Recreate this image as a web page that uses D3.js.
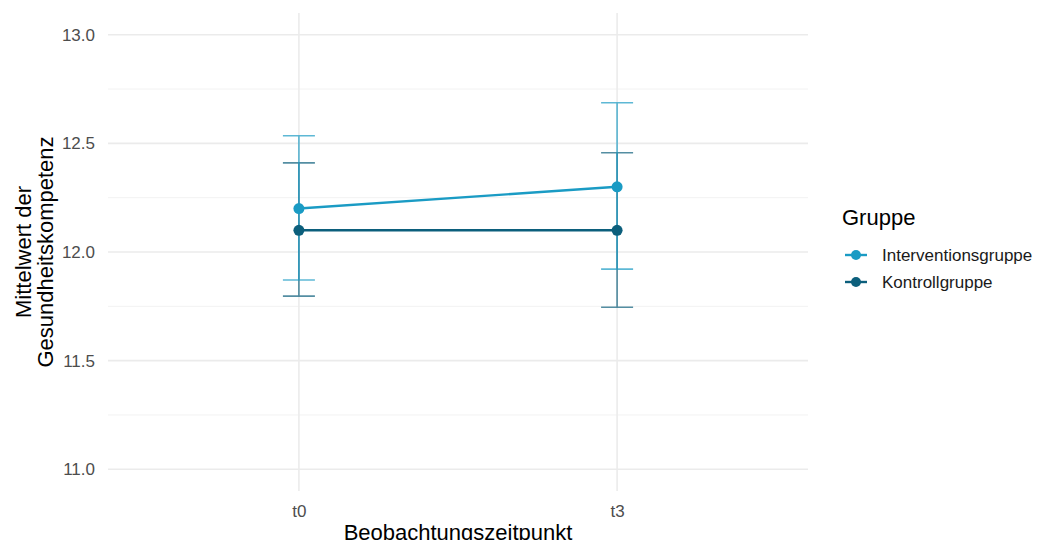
<!DOCTYPE html>
<html>
<head>
<meta charset="utf-8">
<script src="https://cdn.jsdelivr.net/npm/d3@7"></script>
<style>
  body { margin: 0; background: #fff; }
  text { font-family: "Liberation Sans", Arial, sans-serif; }
</style>
</head>
<body>
<script>
// data
var zeitpunkte = ["t0", "t3"];
var gruppen = ["Interventionsgruppe", "Kontrollgruppe"];
var mittelwerte = {
    Interventionsgruppe: [12.2, 12.3],
    Kontrollgruppe: [12.1, 12.1]
};
var obereGrenze = {
    Interventionsgruppe: [12.535, 12.687],
    Kontrollgruppe: [12.41, 12.457]
};
var untereGrenze = {
    Interventionsgruppe: [11.871, 11.921],
    Kontrollgruppe: [11.797, 11.746]
};
var yTicks = [11.0, 11.5, 12.0, 12.5, 13.0];
var yMinor = [11.25, 11.75, 12.25, 12.75];
var farben = { Interventionsgruppe: "#1a9bc4", Kontrollgruppe: "#0c5f7c" };

var svgWidth = 1040;
var svgHeight = 540;

var panel = { left: 108, right: 808, top: 13, bottom: 491 };

var svg = d3.select("body").append("svg")
    .attr("width", svgWidth)
    .attr("height", svgHeight);

// discrete x with ggplot-style expansion of 0.6
var x = d3.scalePoint()
    .domain(zeitpunkte)
    .range([panel.left, panel.right])
    .padding(0.6);

var y = d3.scaleLinear()
    .domain([10.9, 13.1])
    .range([panel.bottom, panel.top]);

// grid
var grid = svg.append("g");
grid.selectAll(".minor")
    .data(yMinor)
    .enter().append("line")
    .attr("x1", panel.left).attr("x2", panel.right)
    .attr("y1", d => y(d)).attr("y2", d => y(d))
    .attr("stroke", "#f2f2f2").attr("stroke-width", 1);
grid.selectAll(".major")
    .data(yTicks)
    .enter().append("line")
    .attr("x1", panel.left).attr("x2", panel.right)
    .attr("y1", d => y(d)).attr("y2", d => y(d))
    .attr("stroke", "#ebebeb").attr("stroke-width", 1.6);
grid.selectAll(".vmajor")
    .data(zeitpunkte)
    .enter().append("line")
    .attr("x1", d => x(d)).attr("x2", d => x(d))
    .attr("y1", panel.top).attr("y2", panel.bottom)
    .attr("stroke", "#ebebeb").attr("stroke-width", 1.6);

// axes (text only, like theme_minimal)
var yAxis = svg.append("g")
    .attr("transform", `translate(${panel.left - 10},0)`)
    .call(d3.axisLeft(y).tickValues(yTicks).tickFormat(d3.format(".1f")).tickSize(0));
yAxis.select(".domain").remove();
yAxis.selectAll("text")
    .attr("fill", "#4d4d4d").style("font-size", "17px");

var xAxis = svg.append("g")
    .attr("transform", `translate(0,${panel.bottom + 11})`)
    .call(d3.axisBottom(x).tickSize(0));
xAxis.select(".domain").remove();
xAxis.selectAll("text")
    .attr("fill", "#4d4d4d").style("font-size", "17px");

// axis titles
svg.append("text")
    .attr("x", (panel.left + panel.right) / 2)
    .attr("y", 540)
    .attr("text-anchor", "middle")
    .style("font-size", "22px")
    .attr("fill", "#000")
    .text("Beobachtungszeitpunkt");

var yTitle = svg.append("text")
    .attr("transform", `translate(31,${(panel.top + panel.bottom) / 2}) rotate(-90)`)
    .attr("text-anchor", "middle")
    .style("font-size", "22px")
    .attr("fill", "#000");
yTitle.append("tspan").attr("x", 0).attr("dy", "0em").text("Mittelwert der");
yTitle.append("tspan").attr("x", 0).attr("dy", "1.0em").text("Gesundheitskompetenz");

// error bars, Kontrollgruppe drawn first so Intervention sits on top
var capHalf = 16;
["Kontrollgruppe", "Interventionsgruppe"].forEach(g => {
    var eb = svg.append("g").attr("opacity", 0.7);
    zeitpunkte.forEach((t, i) => {
        var cx = x(t);
        eb.append("line")
            .attr("x1", cx).attr("x2", cx)
            .attr("y1", y(obereGrenze[g][i])).attr("y2", y(untereGrenze[g][i]))
            .attr("stroke", farben[g]).attr("stroke-width", 1.6);
        [obereGrenze[g][i], untereGrenze[g][i]].forEach(v => {
            eb.append("line")
                .attr("x1", cx - capHalf).attr("x2", cx + capHalf)
                .attr("y1", y(v)).attr("y2", y(v))
                .attr("stroke", farben[g]).attr("stroke-width", 1.6);
        });
    });
});

// lines and points
var line = d3.line()
    .x((d, i) => x(zeitpunkte[i]))
    .y(d => y(d));

gruppen.forEach(g => {
    svg.append("path")
        .datum(mittelwerte[g])
        .attr("d", line)
        .attr("fill", "none")
        .attr("stroke", farben[g])
        .attr("stroke-width", 2.4);
    svg.selectAll(".pt-" + g)
        .data(mittelwerte[g])
        .enter().append("circle")
        .attr("cx", (d, i) => x(zeitpunkte[i]))
        .attr("cy", d => y(d))
        .attr("r", 5.5)
        .attr("fill", farben[g]);
});

// legend
var legend = svg.append("g").attr("transform", "translate(842,0)");
legend.append("text")
    .attr("x", 0).attr("y", 225)
    .style("font-size", "22px")
    .attr("fill", "#000")
    .text("Gruppe");
gruppen.forEach((g, i) => {
    var ly = 255 + i * 27;
    legend.append("line")
        .attr("x1", 3).attr("x2", 25)
        .attr("y1", ly).attr("y2", ly)
        .attr("stroke", farben[g]).attr("stroke-width", 2.4);
    legend.append("circle")
        .attr("cx", 14).attr("cy", ly).attr("r", 5)
        .attr("fill", farben[g]);
    legend.append("text")
        .attr("x", 40).attr("y", ly + 6)
        .style("font-size", "17px")
        .attr("fill", "#1a1a1a")
        .text(g);
});
</script>
</body>
</html>
